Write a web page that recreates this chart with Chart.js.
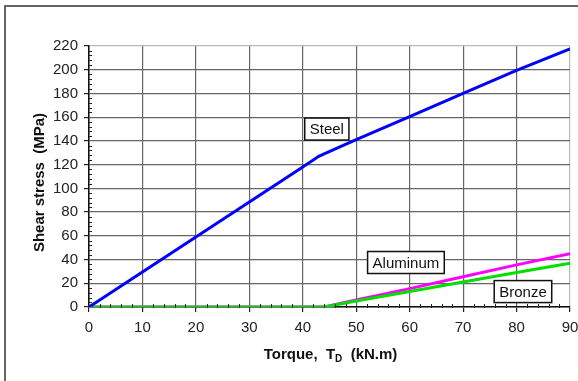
<!DOCTYPE html>
<html>
<head>
<meta charset="utf-8">
<script src="https://cdn.jsdelivr.net/npm/chart.js@4/dist/chart.umd.min.js"></script>
<style>
  html, body { margin: 0; padding: 0; background: #fff; }
  #wrap { width: 578px; height: 381px; position: relative; }
</style>
</head>
<body>
<div id="wrap"><canvas id="chart"></canvas></div>
<script>
// Datos

let torque = [0, 10, 20, 30, 40, 43, 44, 50, 60, 70, 80, 90];
let steel = [0, 29.5, 59, 88.5, 118, 127, 129, 141, 160.5, 180, 199.5, 217.5];
let aluminum = [0, 0, 0, 0, 0, 0, 0, 6, 15.5, 25.5, 35.5, 45];
let bronze = [0, 0, 0, 0, 0, 0, 0, 5, 13, 21, 29, 37];

let xTicks = [0, 10, 20, 30, 40, 50, 60, 70, 80, 90];
let yTicks = [0, 20, 40, 60, 80, 100, 120, 140, 160, 180, 200, 220];

// Etiquetas de las curvas (posicion en unidades de datos)
let labels = [
  { text: "Steel", x: 44.5, y: 150 },
  { text: "Aluminum", x: 59.3, y: 37.5 },
  { text: "Bronze", x: 81.2, y: 13 },
];

function points(ys) {
  return torque.map((t, i) => ({ x: t, y: ys[i] }));
}

let font = "Liberation Sans, Arial, sans-serif";

// Marco, ticks menores, etiquetas y titulos

let extras = {
  id: "extras",
  beforeDraw(chart) {
    let ctx = chart.ctx;
    ctx.save();
    ctx.strokeStyle = "#333";
    ctx.lineWidth = 1.5;
    ctx.beginPath();
    ctx.moveTo(5, 381);
    ctx.lineTo(5, 6);
    ctx.lineTo(578, 6);
    ctx.stroke();
    ctx.restore();
  },
  afterDraw(chart) {
    let ctx = chart.ctx;
    let xs = chart.scales.x;
    let ys = chart.scales.y;
    let area = chart.chartArea;
    ctx.save();
    ctx.strokeStyle = "#222";
    ctx.lineWidth = 1;
    ctx.beginPath();
    for (let v = 0; v <= 220; v += 4) {
      if (v % 20 === 0) continue;
      let py = Math.round(ys.getPixelForValue(v)) + 0.5;
      ctx.moveTo(area.left, py);
      ctx.lineTo(area.left + 3, py);
    }
    for (let v = 0; v <= 90; v += 2) {
      if (v % 10 === 0) continue;
      let px = Math.round(xs.getPixelForValue(v)) + 0.5;
      ctx.moveTo(px, area.bottom - 3);
      ctx.lineTo(px, area.bottom + 1);
    }
    ctx.stroke();

    ctx.font = "15px " + font;
    ctx.textBaseline = "middle";
    ctx.textAlign = "center";
    labels.forEach((l) => {
      let px = xs.getPixelForValue(l.x);
      let py = ys.getPixelForValue(l.y);
      let w = ctx.measureText(l.text).width + 10;
      let h = 22;
      ctx.fillStyle = "#fff";
      ctx.fillRect(px - w / 2, py - h / 2, w, h);
      ctx.strokeStyle = "#111";
      ctx.lineWidth = 1.5;
      ctx.strokeRect(px - w / 2, py - h / 2, w, h);
      ctx.fillStyle = "#111";
      ctx.fillText(l.text, px, py + 1);
    });

    // Titulo eje Y
    ctx.save();
    ctx.font = "bold 15px " + font;
    ctx.fillStyle = "#111";
    ctx.translate(40, (area.top + area.bottom) / 2 + 6);
    ctx.rotate(-Math.PI / 2);
    ctx.fillText("Shear stress  (MPa)", 0, 0);
    ctx.restore();

    // Titulo eje X con subindice
    let parts = [
      { t: "Torque,  T", f: "bold 15px " + font, dy: 0 },
      { t: "D", f: "bold 10px " + font, dy: 4 },
      { t: "  (kN.m)", f: "bold 15px " + font, dy: 0 },
    ];
    let total = 0;
    parts.forEach((p) => {
      ctx.font = p.f;
      p.w = ctx.measureText(p.t).width;
      total += p.w;
    });
    let cx = (area.left + area.right) / 2 + 1 - total / 2;
    ctx.textAlign = "left";
    ctx.fillStyle = "#111";
    parts.forEach((p) => {
      ctx.font = p.f;
      ctx.fillText(p.t, cx, 355 + p.dy);
      cx += p.w;
    });
    ctx.restore();
  },
};

let chart = new Chart(document.getElementById("chart"), {
  type: "line",
  data: {
    datasets: [
      { label: "Steel", data: points(steel), borderColor: "#0000ff" },
      { label: "Bronze", data: points(bronze), borderColor: "#00e000" },
      { label: "Aluminum", data: points(aluminum), borderColor: "#ff00ff" },
    ],
  },
  options: {
    responsive: true,
    maintainAspectRatio: false,
    animation: false,
    layout: { padding: { left: 0, top: 46, right: 8, bottom: 0 } },
    elements: {
      point: { radius: 0 },
      line: { borderWidth: 3, tension: 0 },
    },
    plugins: {
      legend: { display: false },
      tooltip: { enabled: false },
    },
    scales: {
      x: {
        type: "linear",
        min: 0,
        max: 90,
        afterBuildTicks(scale) {
          scale.ticks = xTicks.map((v) => ({ value: v }));
        },
        afterFit(scale) {
          scale.height = 74;
          scale.paddingLeft = 0;
          scale.paddingRight = 0;
        },
        ticks: {
          color: "#222",
          padding: 7,
          maxRotation: 0,
          font: { family: font, size: 15 },
        },
        grid: {
          color: (c) => (c.tick && c.tick.value === 90 ? "#bbb" : "#666"),
          lineWidth: 1.2,
          tickLength: 5,
          tickColor: "#222",
        },
        border: { color: "#111", width: 1.5 },
      },
      y: {
        min: 0,
        max: 220,
        afterBuildTicks(scale) {
          scale.ticks = yTicks.map((v) => ({ value: v }));
        },
        afterFit(scale) {
          scale.width = 89;
          scale.paddingTop = 0;
          scale.paddingBottom = 0;
        },
        ticks: {
          color: "#222",
          padding: 6,
          font: { family: font, size: 15 },
        },
        grid: {
          color: (c) => (c.tick && c.tick.value === 220 ? "#bbb" : "#666"),
          lineWidth: 1.2,
          tickLength: 5,
          tickColor: "#222",
        },
        border: { color: "#111", width: 1.5 },
      },
    },
  },
  plugins: [extras],
});
</script>
</body>
</html>
